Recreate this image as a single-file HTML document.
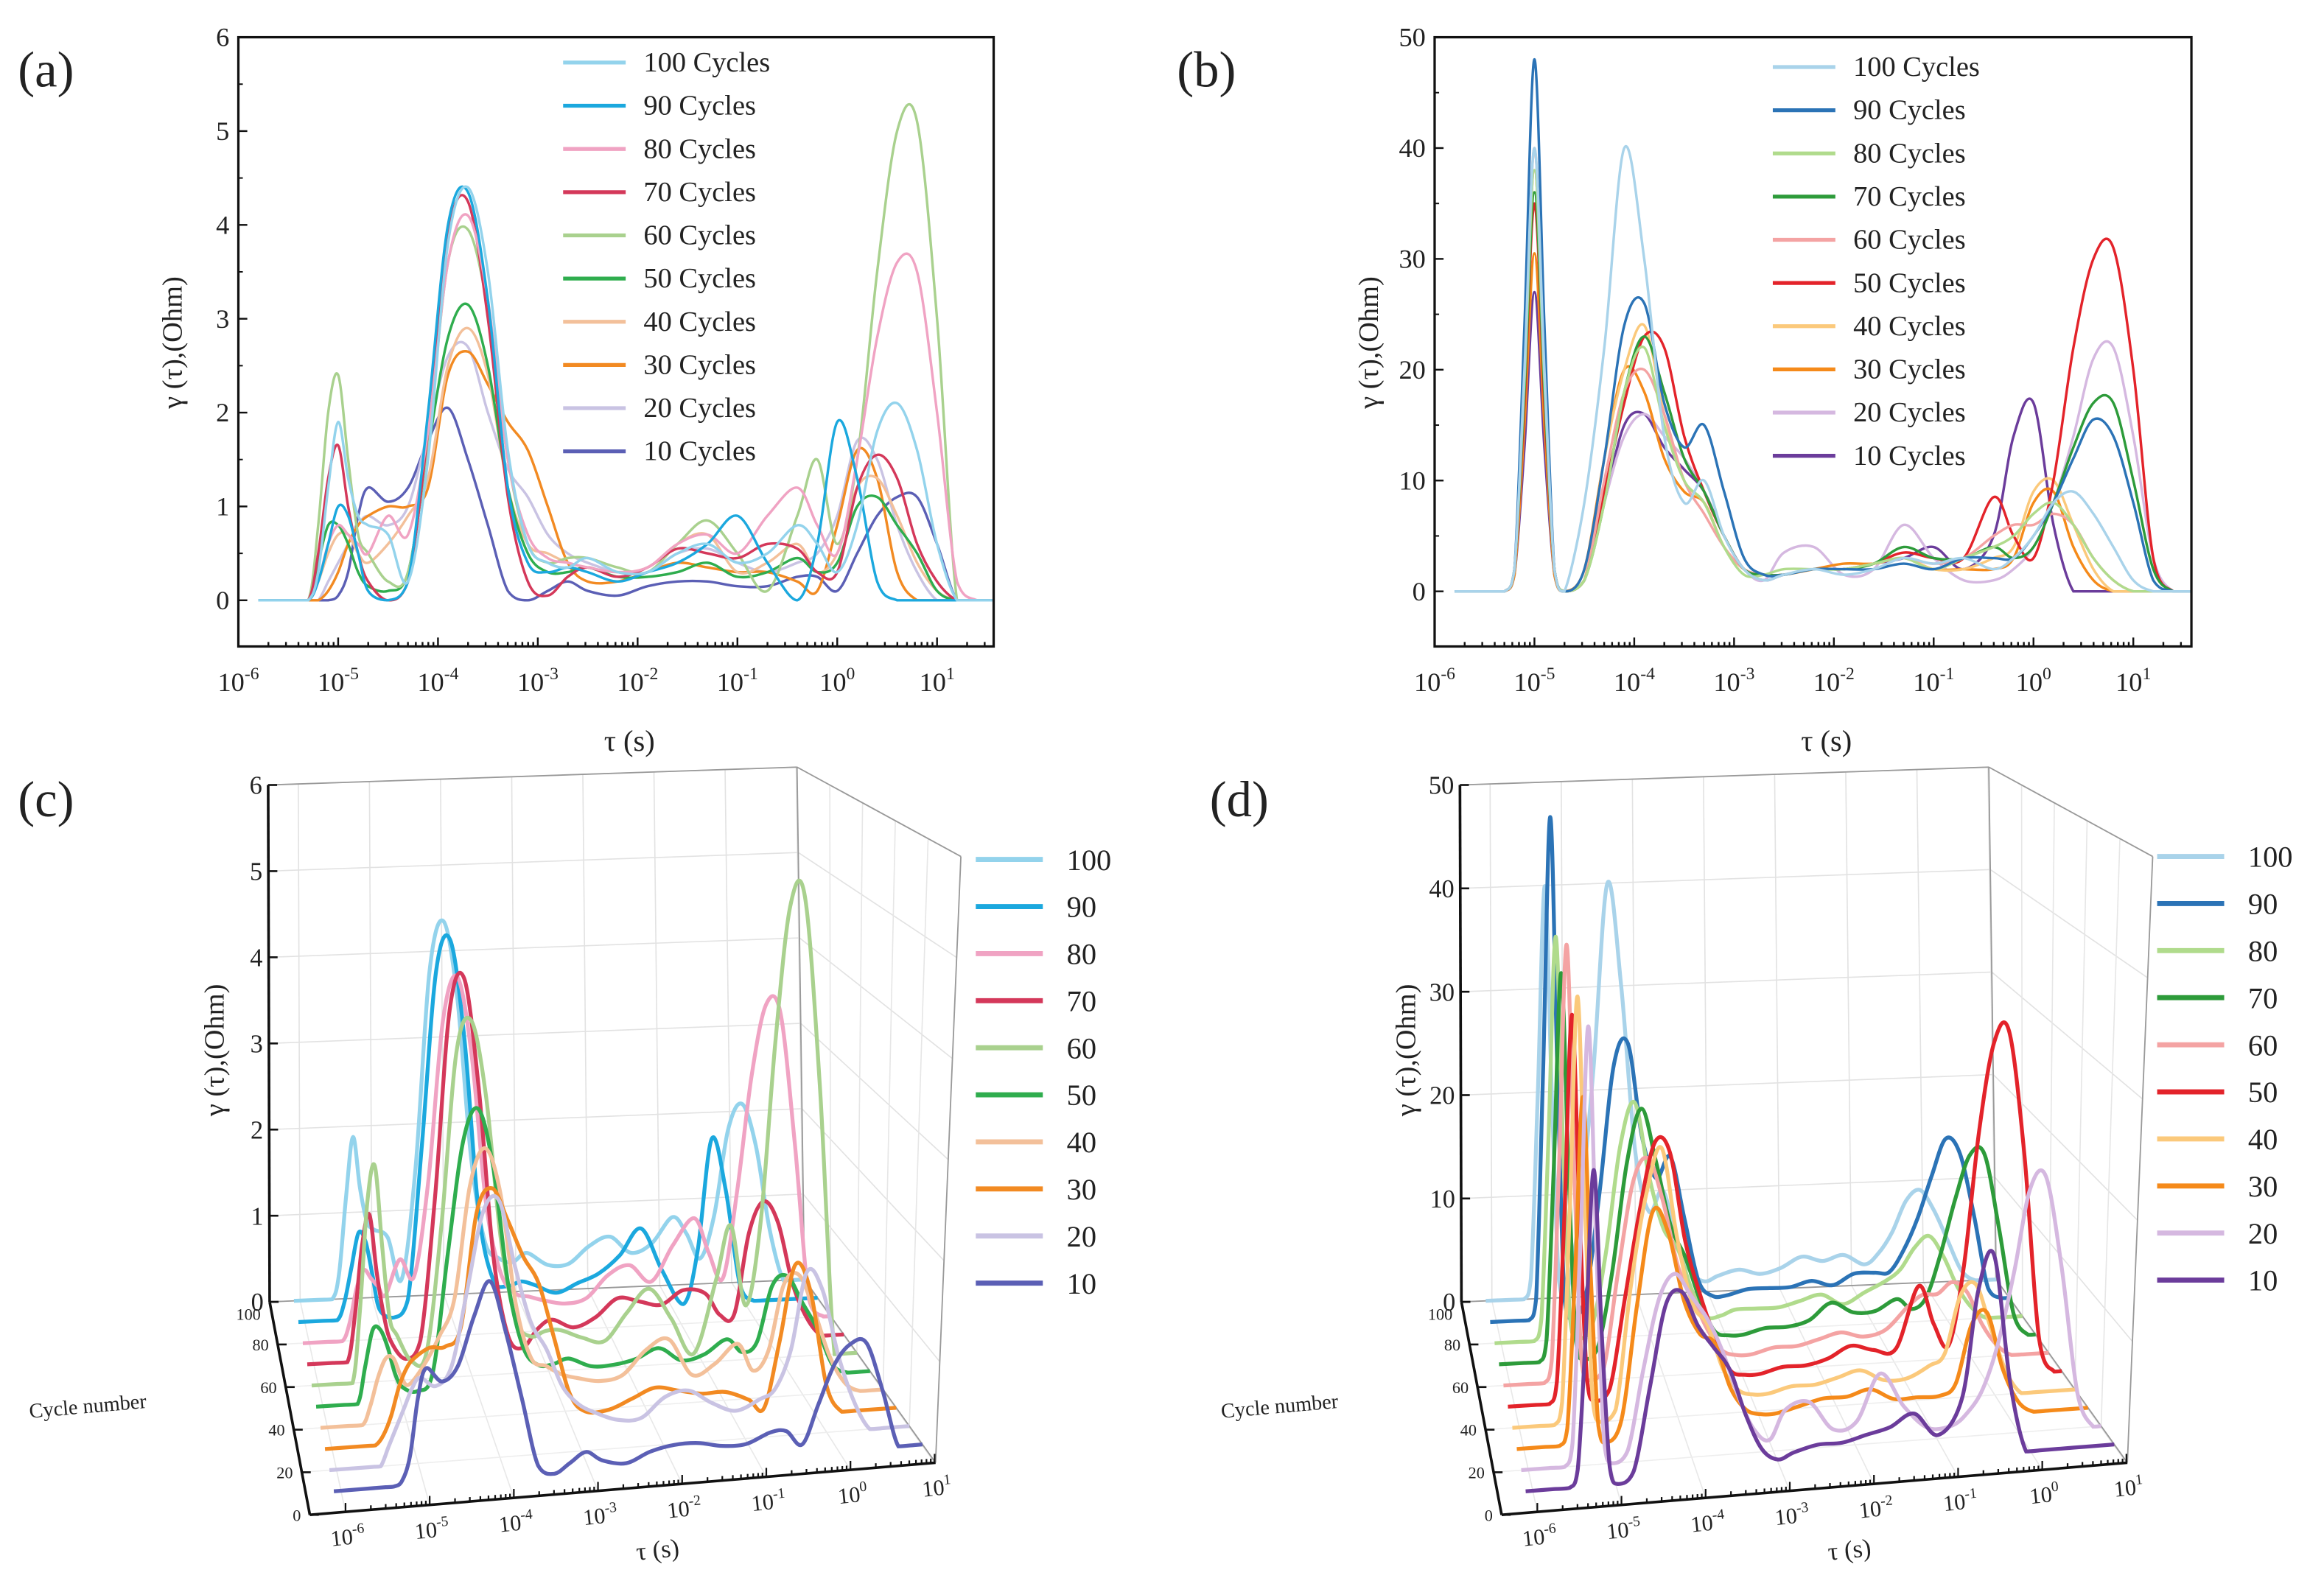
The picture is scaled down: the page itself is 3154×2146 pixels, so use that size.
<!DOCTYPE html>
<html><head><meta charset="utf-8"><style>
html,body{margin:0;padding:0;background:#fff;}
svg{display:block;font-family:"Liberation Serif",serif;}
</style></head><body>
<svg id="fig" xmlns="http://www.w3.org/2000/svg" width="3154" height="2146" viewBox="0 0 1560 1061.4" preserveAspectRatio="none">
<rect x="0" y="0" width="1560" height="1061.4" fill="#fff"/>
</svg>
<script>
// ---------- data ----------
const logTau=[-5.5,-5.3,-5.2,-5.1,-5.0,-4.9,-4.8,-4.7,-4.5,-4.3,-4.1,-3.9,-3.7,-3.5,-3.3,-3.1,-2.9,-2.7,-2.5,-2.2,-1.9,-1.6,-1.3,-1.0,-0.7,-0.4,-0.2,0,0.2,0.4,0.6,0.8,1.0,1.2,1.4];
const cycleNames=['100','90','80','70','60','50','40','30','20','10'];
const cycleValues=[100,90,80,70,60,50,40,30,20,10];
// panel a / c (Ohm)
const a100=[0,0,0.3,1.2,1.9,1.3,0.9,0.8,0.7,0.2,1.5,3.8,4.4,3.5,1.6,0.6,0.4,0.35,0.45,0.3,0.3,0.5,0.6,0.4,0.5,0.8,0.6,0.3,0.8,1.8,2.1,1.6,0.6,0,0];
const a90=[0,0,0.2,0.6,1.0,0.9,0.5,0.1,0,0.2,2.0,4.0,4.35,3.2,1.2,0.4,0.3,0.35,0.3,0.2,0.3,0.4,0.6,0.9,0.4,0,0.6,1.9,1.3,0.2,0,0,0,0,0];
const a80=[0,0,0.2,0.6,0.8,0.7,0.6,0.5,0.9,0.7,1.8,3.6,4.1,3.2,1.5,0.7,0.45,0.4,0.35,0.3,0.35,0.6,0.7,0.5,0.9,1.2,0.8,0.5,1.5,2.8,3.6,3.5,2.0,0.2,0];
const a70=[0,0,0.5,1.3,1.65,1.0,0.5,0.2,0,0.2,1.8,3.9,4.25,3.0,1.1,0.2,0.05,0.25,0.35,0.25,0.35,0.55,0.5,0.45,0.6,0.55,0.3,0.3,1.2,1.55,1.3,0.6,0.2,0,0];
const a60=[0,0,0.8,2.0,2.4,1.5,0.7,0.5,0.2,0.3,1.7,3.6,3.95,3.1,1.5,0.6,0.4,0.45,0.45,0.35,0.3,0.6,0.85,0.5,0.1,0.9,1.5,0.6,1.5,3.5,5.0,5.1,3.0,0,0];
const a50=[0,0,0.4,0.8,0.8,0.6,0.3,0.15,0.1,0.3,1.6,2.8,3.15,2.5,1.2,0.5,0.3,0.3,0.35,0.25,0.25,0.3,0.4,0.25,0.3,0.45,0.3,0.4,1.0,1.1,0.8,0.5,0.1,0,0];
const a40=[0,0,0.2,0.5,0.7,0.7,0.5,0.4,0.6,0.9,1.3,2.5,2.9,2.4,1.2,0.6,0.5,0.4,0.35,0.3,0.35,0.6,0.7,0.3,0.4,0.6,0.3,0.5,1.2,1.3,0.9,0.4,0.1,0,0];
const a30=[0,0,0,0.1,0.3,0.6,0.8,0.9,1.0,1.0,1.2,2.4,2.65,2.3,1.9,1.6,1.0,0.4,0.2,0.2,0.3,0.4,0.35,0.3,0.3,0.2,0.1,0.8,1.6,1.3,0.3,0,0,0,0];
const a20=[0,0,0,0.2,0.4,0.6,0.8,0.9,0.8,1.0,1.8,2.6,2.7,2.0,1.4,1.1,0.7,0.5,0.4,0.3,0.3,0.5,0.55,0.4,0.3,0.4,0.5,0.9,1.7,1.5,0.8,0.3,0,0,0];
const a10=[0,0,0,0,0.05,0.3,0.9,1.2,1.05,1.2,1.7,2.05,1.5,0.8,0.1,0,0.1,0.2,0.1,0.05,0.15,0.2,0.2,0.15,0.15,0.25,0.25,0.1,0.5,0.9,1.1,1.1,0.6,0,0];
// panel b / d (Ohm)
const b100=[0,0,2,20,40,20,2,0,8,22,40,30,14,8,10,5,2,1,1.5,2,1.5,2,3,2.5,3,2,3,5,8,9,7,4,1,0,0];
const b90=[0,0,2,24,48,24,2,0,2,12,24,26,17,13,15,9,3,1.5,1.5,2,2,2,2.5,2,3,3,3,5,8,12,15.5,14,8,1,0];
const b80=[0,0,2,19,38,19,2,0,1,8,18,22,15,10,8,4,1.5,1.5,2,2,2,2.5,3,2,3,4,5,7,8,6,3,1,0,0,0];
const b70=[0,0,2,18,36,18,2,0,1,8,18,23,18,12,9,5,2,1.5,1.5,2,2,2.5,4,3,3,4,3,4,8,13,17,17,10,2,0];
const b60=[0,0,2,20,40,20,2,0,1,10,18,20,16,10,7,4,2,1.5,1.5,2,2,2.5,3,2.5,3,5,6,6,7,6,3,1,0,0,0];
const b50=[0,0,2,17,35,17,2,0,1,9,17,23,22,14,9,5,2,1.5,1.5,2,2,2.5,3.5,3,3,8.5,5,3,10,22,30,31,20,3,0];
const b40=[0,0,2,19,38,19,2,0,1,12,20,24,16,10,8,4,2,1.5,1.5,2,2,2.5,3,2,2,3,4,9,10,6,2,0,0,0,0];
const b30=[0,0,1.5,15,30.5,15,1.5,0,2,12,20,18,12,9,8,4,2,1.5,1.5,2,2.5,2.5,3,2,2,2,3,8,9,4,1,0,0,0,0];
const b20=[0,0,2,19,38,19,2,0,1,8,14,16,14,12,9,5,2,1,3.5,4,1.5,2,6,3,1,1,2,4,8,14,21,22,14,3,0];
const b10=[0,0,1.5,13,27,13,1.5,0,1,8,15,16,13,11,9,5,2,1,1.5,2,2,2.5,3,4,2,5,14,17,6,0,0,0,0,0,0];
const xTickExps=[-6,-5,-4,-3,-2,-1,0,1];
const yTicksA=[0,1,2,3,4,5,6];
const yTicksB=[0,10,20,30,40,50];
const cycleTicks=[0,20,40,60,80,100];

const seriesA=[a100,a90,a80,a70,a60,a50,a40,a30,a20,a10];
const seriesB=[b100,b90,b80,b70,b60,b50,b40,b30,b20,b10];
const colorsA=['#93d3ec','#1ba8de','#f0a3c3','#d4385a','#a9d18e','#2fad4e','#f3c09a','#f28a22','#c9c3e3','#5b5fb5'];
const colorsB=['#a9d3ea','#2b73b6','#b0db8c','#2d9b3a','#f4a3a3','#e3232a','#fbc97b','#f58a1a','#d5b8e0','#6b3c9b'];

// ---------- helpers ----------
const NS='http://www.w3.org/2000/svg';
const svg=document.getElementById('fig');
function el(tag,attrs,parent){const e=document.createElementNS(NS,tag);for(const k in attrs)e.setAttribute(k,attrs[k]);(parent||svg).appendChild(e);return e;}
function smooth(p,base){
  if(p.length<2)return '';
  let d='M'+p[0][0].toFixed(2)+','+p[0][1].toFixed(2);
  for(let i=0;i<p.length-1;i++){
    const p0=p[i-1]||p[i],p1=p[i],p2=p[i+1],p3=p[i+2]||p2;
    const c1=[p1[0]+(p2[0]-p0[0])/6,p1[1]+(p2[1]-p0[1])/6];
    const c2=[p2[0]-(p3[0]-p1[0])/6,p2[1]-(p3[1]-p1[1])/6];
    if(base){const lim=Math.max(base[i],base[i+1]);c1[1]=Math.min(c1[1],lim);c2[1]=Math.min(c2[1],lim);}
    d+='C'+c1[0].toFixed(2)+','+c1[1].toFixed(2)+' '+c2[0].toFixed(2)+','+c2[1].toFixed(2)+' '+p2[0].toFixed(2)+','+p2[1].toFixed(2);
  }
  return d;
}
function pow10(x,y,exp,size,anchor,g,rot){
  const t=el('text',{x:x,y:y,'font-size':size,'text-anchor':anchor||'middle',fill:'#222'},g);
  if(rot)t.setAttribute('transform',rot);
  
  
  t.appendChild(document.createTextNode('10'));
  const s=el('tspan',{dy:-size*0.45,'font-size':size*0.65},t);
  s.textContent=String(exp);
  return t;
}
function txt(x,y,s,size,anchor,g,name){
  const t=el('text',{x:x,y:y,'font-size':size,'text-anchor':anchor||'start',fill:'#222'},g);
  t.textContent=s;
  
  
  return t;
}

// ---------- 2D panels ----------
function panel2D(o){
  const g=el('g',{});
  
  
  const X=l=>o.x0+67*(l+6);
  const Y=v=>o.yZero-o.yPer*v;
  const clipId=o.name+'-clip';
  const cp=el('clipPath',{id:clipId},g);
  el('rect',{x:o.x0,y:o.yTop,width:o.x1-o.x0,height:o.yBot-o.yTop},cp);
  const cg=el('g',{'clip-path':'url(#'+clipId+')'},g);
  for(let s=o.series.length-1;s>=0;s--){
    const pts=logTau.map((l,i)=>[X(l),Y(o.series[s][i])]);
    pts.unshift([X(-5.8),Y(0)]);pts.push([X(1.6),Y(0)]);
    const base=pts.map(()=>Y(0));
    const p=el('path',{d:smooth(pts,base),fill:'none',stroke:o.colors[s],'stroke-width':1.7},cg);
    
    
  }
  const fr=el('rect',{x:o.x0,y:o.yTop,width:o.x1-o.x0,height:o.yBot-o.yTop,fill:'none',stroke:'#111','stroke-width':1.6},g);
  
  
  for(let e=-6;e<=1;e++){
    for(let m=1;m<10;m++){
      const l=e+Math.log10(m);const x=X(l);
      if(x>o.x1)continue;
      el('line',{x1:x,y1:o.yBot,x2:x,y2:o.yBot-(m===1?6:3),stroke:'#111','stroke-width':1.2},g);
    }
  }
  xTickExps.forEach(e=>pow10(X(e),o.yBot+30,e,18,'middle',g));
  o.yTicks.forEach(v=>{
    el('line',{x1:o.x0,y1:Y(v),x2:o.x0+6,y2:Y(v),stroke:'#111','stroke-width':1.2},g);
    el('line',{x1:o.x0,y1:Y(v+o.yStep/2),x2:o.x0+3,y2:Y(v+o.yStep/2),stroke:'#111','stroke-width':1},g);
    txt(o.x0-6,Y(v)+6,String(v),18,'end',g,'y-tick-label');
  });
  const yl=txt(0,0,'γ (τ),(Ohm)',19,'middle',g,'y-axis-title');
  yl.setAttribute('transform','translate('+(o.x0-38)+','+(o.yTop+205)+') rotate(-90)');
  txt((o.x0+o.x1)/2+9,o.yBot+70,'τ (s)',20,'middle',g,'x-axis-title');
  txt(o.labX,o.labY,o.label,34,'start',g,'panel-label');
  cycleNames.forEach((n,i)=>{
    const y=o.legY+29*i;
    const l=el('line',{x1:o.legX,y1:y,x2:o.legX+42,y2:y,stroke:o.colors[i],'stroke-width':2.6},g);
    
    
    txt(o.legX+54,y+6,n+' Cycles',19,'start',g,'legend-entry-'+n);
  });
}
panel2D({name:'panel-a',x0:160,x1:667,yTop:25,yBot:434,yZero:403,yPer:63,yTicks:yTicksA,yStep:1,series:seriesA,colors:colorsA,legX:378,legY:42,label:'(a)',labX:12,labY:58});
panel2D({name:'panel-b',x0:963,x1:1471,yTop:25,yBot:434,yZero:397,yPer:7.44,yTicks:yTicksB,yStep:10,series:seriesB,colors:colorsB,legX:1190,legY:45,label:'(b)',labX:790,labY:58});

// ---------- 3D panels ----------
function panel3D(o){
  const g=el('g',{});
  
  
  const dx=o.dx;
  const B0=[181+dx,874],B1=[540+dx,859],F0=[208+dx,1017],F1=[628+dx,982];
  const T0=[180+dx,527],T1=[535+dx,515],RT=[645+dx,575];
  function floor(u,v){
    const lx=F0[0]+(B0[0]-F0[0])*v, ly=F0[1]+(B0[1]-F0[1])*v;
    const rx=F1[0]+(B1[0]-F1[0])*v, ry=F1[1]+(B1[1]-F1[1])*v;
    return [lx+(rx-lx)*u, ly+(ry-ly)*u];
  }
  const U=l=>(l+6.2)/7.7;
  const V=c=>c/100;
  function proj(l,c,z){const p=floor(U(l),V(c));const s=o.zPer*(1+0.15*(1-V(c)));return [p[0],p[1]-s*z];}
  const zTop=o.zTicks[o.zTicks.length-1];
  for(let k=0;k<=7;k++){
    const u=0.057+k*0.1345;
    const bx=B0[0]+(B1[0]-B0[0])*u, by=B0[1]+(B1[1]-B0[1])*u;
    const tx=T0[0]+(T1[0]-T0[0])*u, ty=T0[1]+(T1[1]-T0[1])*u;
    el('line',{x1:bx,y1:by,x2:tx,y2:ty,stroke:'#e2e2e2','stroke-width':0.8},g);
    const fp=floor(u,0);
    el('line',{x1:bx,y1:by,x2:fp[0],y2:fp[1],stroke:'#e8e8e8','stroke-width':0.8},g);
  }
  o.zTicks.forEach(z=>{
    const f=z/zTop;
    const ly=B0[1]+(T0[1]-B0[1])*f, lx=B0[0]+(T0[0]-B0[0])*f;
    const ry=B1[1]+(T1[1]-B1[1])*f, rx=B1[0]+(T1[0]-B1[0])*f;
    const qy=F1[1]+(RT[1]-F1[1])*f, qx=F1[0]+(RT[0]-F1[0])*f;
    el('polyline',{points:lx+','+ly+' '+rx+','+ry+' '+qx+','+qy,fill:'none',stroke:'#e2e2e2','stroke-width':0.8},g);
  });
  for(let k=1;k<=4;k++){
    const v=k/5;
    const p=floor(1,v);
    const top=[T1[0]+(RT[0]-T1[0])*(1-v),T1[1]+(RT[1]-T1[1])*(1-v)];
    el('line',{x1:p[0],y1:p[1],x2:top[0],y2:top[1],stroke:'#e6e6e6','stroke-width':0.8},g);
    const a=floor(0,v),b=floor(1,v);
    el('line',{x1:a[0],y1:a[1],x2:b[0],y2:b[1],stroke:'#eeeeee','stroke-width':0.8},g);
  }
  [[T0,T1],[T1,RT],[B0,B1],[B1,F1],[T1,B1],[RT,F1]].forEach(s=>el('line',{x1:s[0][0],y1:s[0][1],x2:s[1][0],y2:s[1][1],stroke:'#999','stroke-width':0.9},g));
  cycleValues.forEach((c,s)=>{
    const ls=[-5.85].concat(logTau,[1.5]);
    const zs=[0].concat(o.series[s],[0]);
    const pts=ls.map((l,i)=>proj(l,c,zs[i]));
    const base=ls.map(l=>proj(l,c,0)[1]);
    const p=el('path',{d:smooth(pts,base),fill:'none',stroke:o.colors[s],'stroke-width':2.6},g);
    
    
  });
  el('line',{x1:T0[0],y1:T0[1],x2:B0[0],y2:B0[1],stroke:'#111','stroke-width':1.8},g);
  el('line',{x1:B0[0],y1:B0[1],x2:F0[0],y2:F0[1],stroke:'#111','stroke-width':1.8},g);
  el('line',{x1:F0[0],y1:F0[1],x2:F1[0],y2:F1[1],stroke:'#111','stroke-width':1.8},g);
  o.zTicks.forEach(z=>{
    const f=z/zTop;const y=B0[1]+(T0[1]-B0[1])*f, x=B0[0]+(T0[0]-B0[0])*f;
    el('line',{x1:x,y1:y,x2:x+6,y2:y,stroke:'#111','stroke-width':1.3},g);
    txt(x-4,y+6,String(z),17,'end',g,'z-tick-label');
  });
  cycleTicks.forEach(c=>{
    const p=floor(0,V(c));
    el('line',{x1:p[0],y1:p[1],x2:p[0]+6,y2:p[1],stroke:'#111','stroke-width':1.3},g);
    txt(p[0]-6,p[1]+(c===100?12:4),String(c),11,'end',g,'cycle-tick-label');
  });
  for(let k=0;k<=7;k++){
    for(let m=1;m<10;m++){
      const u=0.057+(k+Math.log10(m))*0.1345;if(u>1)continue;
      const p=floor(u,0);
      el('line',{x1:p[0],y1:p[1],x2:p[0],y2:p[1]-(m===1?6:3),stroke:'#111','stroke-width':1.1},g);
    }
    const p=floor(0.057+k*0.1345,0);
    pow10(p[0]+2,p[1]+22,xTickExps[k],15,'middle',g,'rotate(-6 '+p[0]+' '+(p[1]+22)+')');
  }
  const yl=txt(0,0,'γ (τ),(Ohm)',19,'middle',g,'z-axis-title');
  yl.setAttribute('transform','translate('+(150+dx)+','+705+') rotate(-90)');
  const cn=txt(20+dx,952,'Cycle number',14,'start',g,'cycle-axis-title');
  cn.setAttribute('transform','rotate(-5 '+(20+dx)+' 952)');
  const tl=txt(442+dx,1046,'τ (s)',17,'middle',g,'x-axis-title');
  tl.setAttribute('transform','rotate(-6 '+(442+dx)+' 1046)');
  txt(12+dx,548,o.label,34,'start',g,'panel-label');
  cycleNames.forEach((n,i)=>{
    const y=o.legY+31.6*i;
    const l=el('line',{x1:o.legX,y1:y,x2:o.legX+45,y2:y,stroke:o.colors[i],'stroke-width':3.4},g);
    
    
    txt(o.legX+61,y+7,n,20,'start',g,'legend-entry-'+n);
  });
}
panel3D({name:'panel-c',dx:0,zPer:57,zTicks:yTicksA,series:seriesA,colors:colorsA,legX:655,legY:577,label:'(c)'});
panel3D({name:'panel-d',dx:800,zPer:6.92,zTicks:yTicksB,series:seriesB,colors:colorsB,legX:1448,legY:575,label:'(d)'});
</script>
</body></html>
